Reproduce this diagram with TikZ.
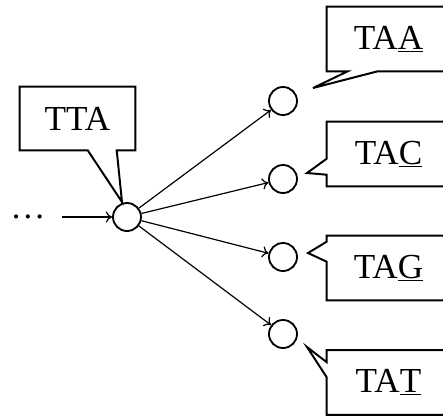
\documentclass[tikz,border=0pt]{standalone}
\usepackage{fontspec}
\setmainfont{Liberation Serif}
\usetikzlibrary{arrows.meta,calc}
\tikzset{state/.style={draw,circle,line width=1.3pt,minimum size=0.7cm,inner sep=0pt},
  word/.style={inner sep=0pt,minimum height=1.6cm,font=\fontsize{25}{29}\selectfont},
  bubble/.style={draw,line width=1.4pt,line join=miter},
  arr/.style={-{To[length=4.5pt,width=8pt]},line width=0.85pt}}

\begin{document}
\begin{tikzpicture}[x=0.025cm,y=-0.025cm]
\useasboundingbox (0,0) rectangle (443,416);
\clip (0,0) rectangle (443,416);
% states
\node[inner sep=0pt,font=\fontsize{25}{29}\selectfont] (dots) at (28,217) {\dots};
\node[state] (tt) at (127,217) {};
\node[state] (ta) at (283,101) {};
\node[state] (tc) at (283,179) {};
\node[state] (tg) at (283,257) {};
\node[state] (tx) at (283,334) {};
\draw[arr,shorten <=0.4cm] (dots)--(tt);
\draw[arr] (tt)--(ta); \draw[arr] (tt)--(tc); \draw[arr] (tt)--(tg); \draw[arr] (tt)--(tx);
% labels in speech bubbles
\node[word,minimum width=2.875cm,minimum height=1.575cm] (tta) at (77.5,118.5) {TTA};
\node[word,minimum width=3.075cm] (taa) at (388.5,39) {TA\underline{A}};
\node[word,minimum width=3.075cm] (tac) at (388.5,154) {TA\underline{C}};
\node[word,minimum width=3.075cm] (tag) at (388.5,268) {TA\underline{G}};
\node[word,minimum width=3.075cm] (tat) at (388.5,382.5) {TA\underline{T}};
\coordinate (ttatip) at (122,202);
\coordinate (taatip) at (313,88);
\coordinate (tactip) at (307,173);
\coordinate (tagtip) at (308,253);
\coordinate (tattip) at (307,347);
\draw[bubble] (tta.north west)--(tta.north east)--(tta.south east)--($(tta.south west)+(97,0)$)--(ttatip)--($(tta.south west)+(68,0)$)--(tta.south west)--cycle;
\draw[bubble] (taa.north west)--(taa.north east)--(taa.south east)--($(taa.south west)+(51,0)$)--(taatip)--($(taa.south west)+(21,0)$)--(taa.south west)--cycle;
\draw[bubble] (tac.north west)--(tac.north east)--(tac.south east)--(tac.south west)--($(tac.north west)+(0,53)$)--(tactip)--($(tac.north west)+(0,37)$)--cycle;
\draw[bubble] (tag.north west)--(tag.north east)--(tag.south east)--(tag.south west)--($(tag.north west)+(0,26)$)--(tagtip)--($(tag.north west)+(0,6)$)--cycle;
\draw[bubble] (tat.north west)--(tat.north east)--(tat.south east)--(tat.south west)--($(tat.north west)+(0,27)$)--(tattip)--($(tat.north west)+(0,12)$)--cycle;
\end{tikzpicture}
\end{document}
